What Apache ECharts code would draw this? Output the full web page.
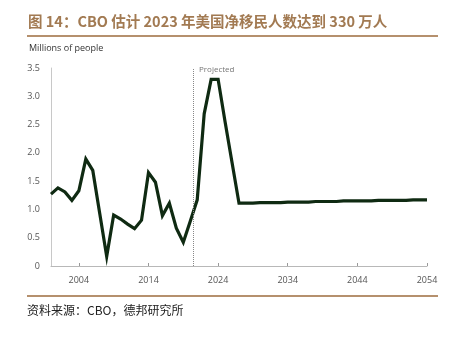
<!DOCTYPE html>
<html><head><meta charset="utf-8">
<script src="https://cdn.jsdelivr.net/npm/echarts@6/dist/echarts.min.js"></script>
<style>html,body{margin:0;padding:0;background:#fff}#c{width:451px;height:339px}</style>
</head><body><div id="c"></div>
<script>
const years = [2000,2001,2002,2003,2004,2005,2006,2007,2008,2009,2010,2011,2012,2013,2014,2015,2016,2017,2018,2019,2020,2021,2022,2023,2024,2025,2026,2027,2028,2029,2030,2031,2032,2033,2034,2035,2036,2037,2038,2039,2040,2041,2042,2043,2044,2045,2046,2047,2048,2049,2050,2051,2052,2053,2054];
const netImmigration = [1.27,1.38,1.31,1.16,1.33,1.89,1.69,0.93,0.17,0.90,0.83,0.74,0.66,0.81,1.65,1.48,0.89,1.11,0.67,0.42,0.79,1.17,2.69,3.30,3.30,2.55,1.83,1.11,1.11,1.11,1.12,1.12,1.12,1.12,1.13,1.13,1.13,1.13,1.14,1.14,1.14,1.14,1.15,1.15,1.15,1.15,1.15,1.16,1.16,1.16,1.16,1.16,1.17,1.17,1.17];
const xTickLabels = [2004,2014,2024,2034,2044,2054];
const projectionStart = 2020.5;
const titleText = '图 14：CBO 估计 2023 年美国净移民人数达到 330 万人';
const unitText = 'Millions of people';
const sourceText = '资料来源：CBO，德邦研究所';

const chart = echarts.init(document.getElementById('c'), null, {renderer:'canvas'});
chart.setOption({
  animation:false,
  grid:{left:51,right:24,top:68,bottom:73,containLabel:false},
  xAxis:{type:'value',min:2000,max:2054,
    axisLine:{lineStyle:{color:'#b8b8b8',width:1}},
    axisTick:{show:true,inside:true,length:3,lineStyle:{color:'#999'},customValues:xTickLabels},
    axisLabel:{customValues:xTickLabels,color:'#555',fontSize:9,fontFamily:'Open Sans',margin:10,formatter:v=>String(v)},
    splitLine:{show:false}},
  yAxis:{type:'value',min:0,max:3.5,interval:0.5,
    axisLine:{show:true,lineStyle:{color:'#c8c8c8',width:1}},
    axisTick:{show:false},
    axisLabel:{color:'#555',fontSize:9,fontFamily:'Open Sans',margin:11,formatter:v=>v===0?'0':v.toFixed(1)},
    splitLine:{show:false}},
  series:[{type:'line',data:years.map((y,i)=>[y,netImmigration[i]]),symbol:'none',
    lineStyle:{color:'#0f2a12',width:3.2,join:'miter'},
    markLine:{silent:true,symbol:'none',label:{show:false},
      lineStyle:{color:'#888',type:'dotted',width:1},data:[{xAxis:projectionStart}]}}],
  graphic:[
    {type:'text',left:28,top:14,style:{text:titleText,fill:'#a27a52',font:'bold 14.5px "Noto Sans CJK SC", sans-serif'}},
    {type:'rect',shape:{x:27,y:35,width:411,height:2},style:{fill:'#b5906d'}},
    {type:'text',left:29,top:44,style:{text:unitText,fill:'#333',font:'9px "Open Sans", sans-serif'}},
    {type:'text',left:199,top:66,style:{text:'Projected',fill:'#777',font:'8px "Open Sans", sans-serif'}},
    {type:'rect',shape:{x:27,y:295,width:411,height:2},style:{fill:'#b5906d'}},
    {type:'text',left:27,top:304,style:{text:sourceText,fill:'#222',font:'12px "Noto Sans CJK SC", sans-serif'}}
  ]
});
</script></body></html>
